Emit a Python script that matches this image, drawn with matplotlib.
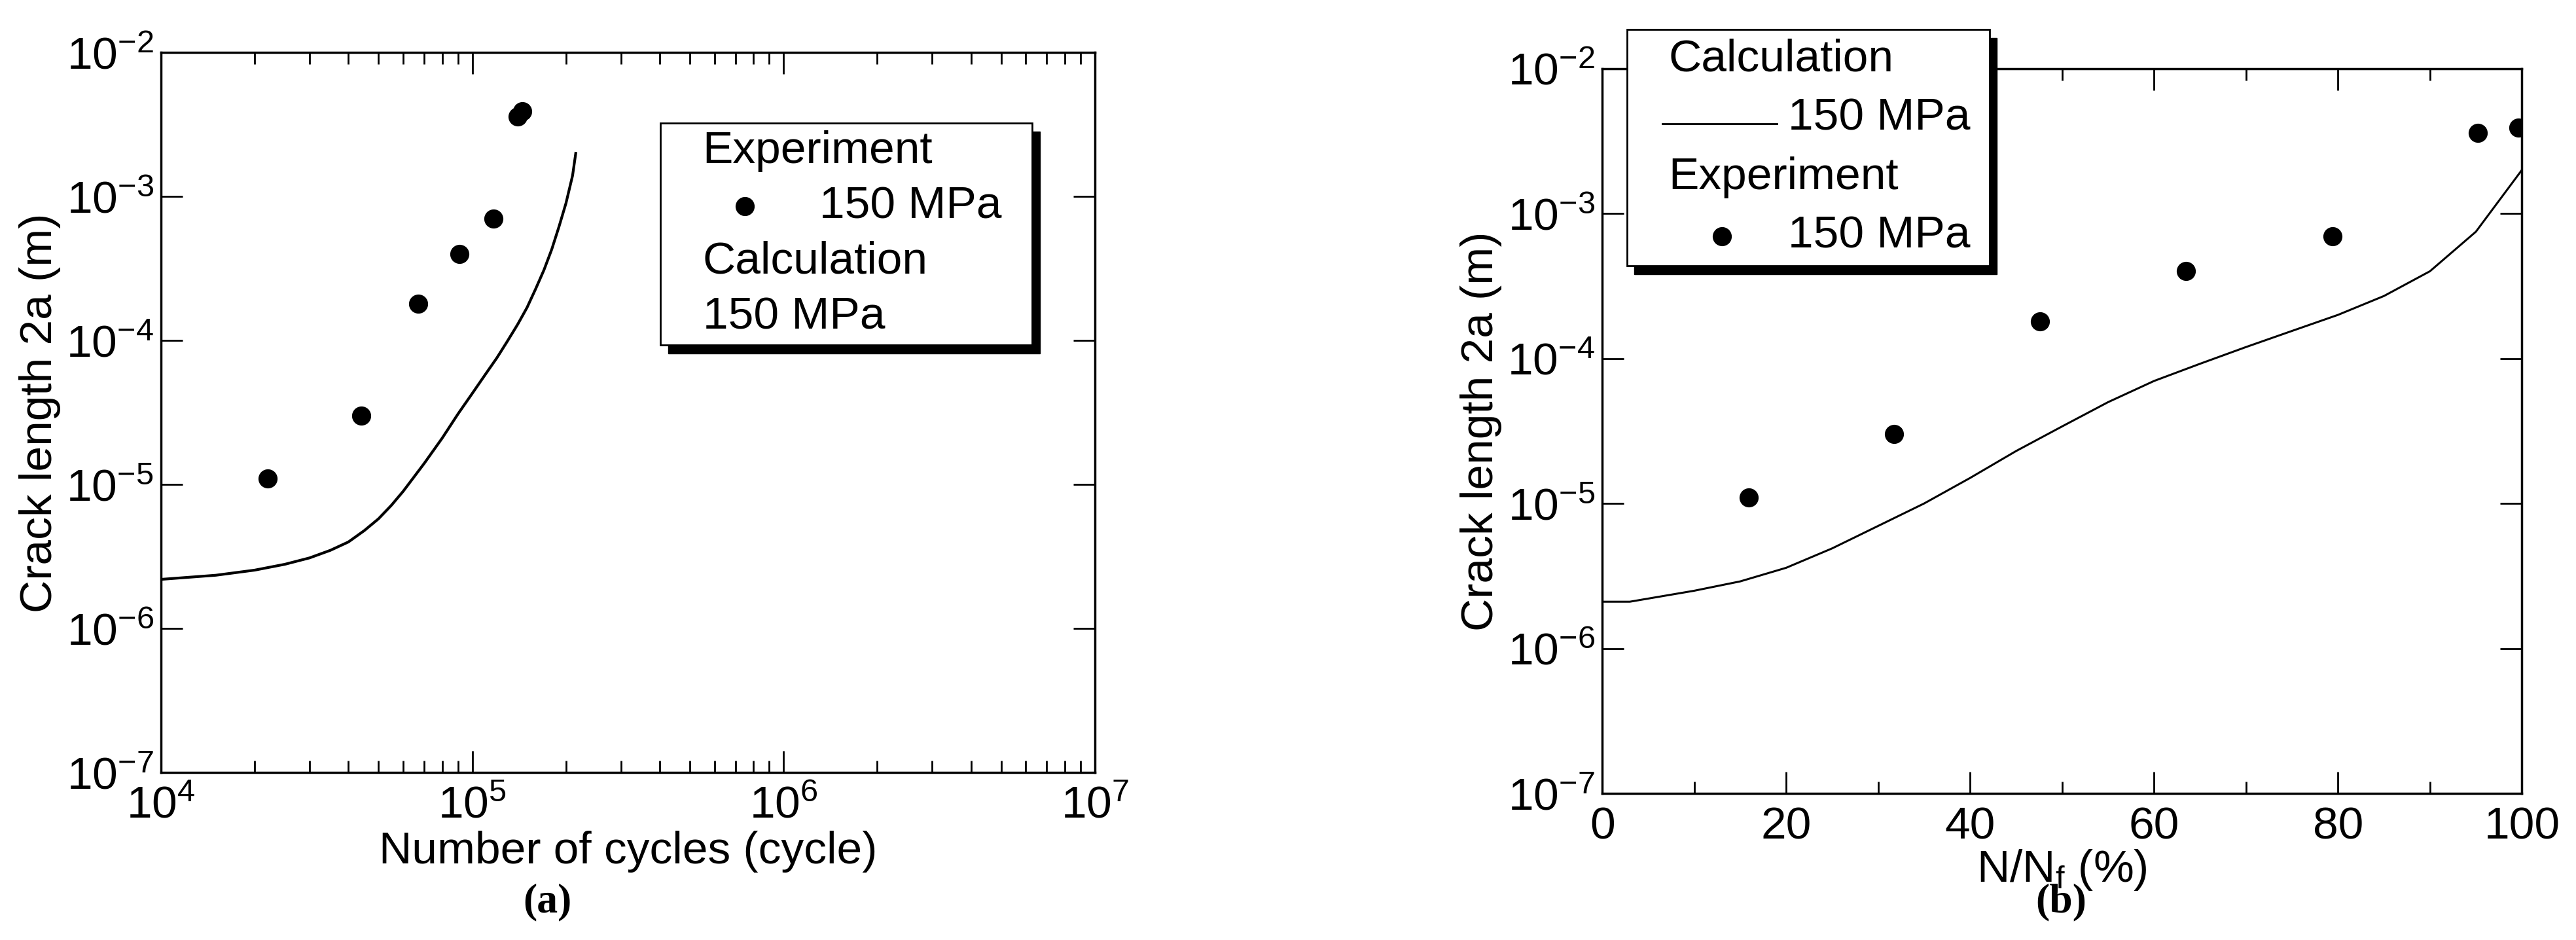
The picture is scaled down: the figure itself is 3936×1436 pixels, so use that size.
import numpy as np
import matplotlib
matplotlib.use("Agg")
from matplotlib import pyplot as plt
from matplotlib.patches import Rectangle
from matplotlib.ticker import LogLocator

plt.rcParams['font.family'] = ['Liberation Sans Narrow', 'Liberation Sans', 'DejaVu Sans']
plt.rcParams['mathtext.fontset'] = 'custom'
plt.rcParams['mathtext.rm'] = 'Liberation Sans'
plt.rcParams['mathtext.it'] = 'Liberation Sans'

# experiment (cycles, crack length)
exp_cycles = [2.2e4, 4.4e4, 6.7e4, 9.1e4, 1.17e5, 1.4e5, 1.45e5]
exp_len = [1.1e-5, 3.0e-5, 1.8e-4, 4.0e-4, 7.0e-4, 3.6e-3, 3.9e-3]
exp_pct = [15.9, 31.7, 47.6, 63.5, 79.4, 95.2, 99.6]

# calculation vs cycles
calc_cycles = [1e4, 1.5e4, 2e4, 2.5e4, 3e4, 3.5e4, 4e4, 4.5e4, 5e4, 5.5e4, 6e4, 7e4, 8e4, 9e4, 1e5, 1.1e5,
               1.2e5, 1.3e5, 1.4e5, 1.5e5, 1.6e5, 1.7e5, 1.8e5, 1.9e5, 2e5, 2.1e5, 2.15e5]
calc_len = [2.2e-6, 2.35e-6, 2.55e-6, 2.8e-6, 3.1e-6, 3.5e-6, 4.0e-6, 4.8e-6, 5.8e-6, 7.2e-6, 9e-6, 1.4e-5,
            2.1e-5, 3.1e-5, 4.3e-5, 5.8e-5, 7.6e-5, 1.0e-4, 1.3e-4, 1.7e-4, 2.3e-4, 3.1e-4, 4.3e-4, 6.2e-4,
            9e-4, 1.4e-3, 2.0e-3]

# calculation vs N/Nf
calc_pct = [0, 3, 10, 15, 20, 25, 30, 35, 40, 45, 50, 55, 60, 65, 70, 75, 80, 85, 90, 95, 100]
calc_len_pct = [2.1e-6, 2.1e-6, 2.5e-6, 2.9e-6, 3.6e-6, 4.9e-6, 7e-6, 1.0e-5, 1.5e-5, 2.3e-5, 3.4e-5,
                5.0e-5, 7e-5, 9.2e-5, 1.2e-4, 1.55e-4, 2e-4, 2.7e-4, 4e-4, 7.5e-4, 2e-3]

FS = 50

fig = plt.figure(figsize=(39.36, 14.36), dpi=100)
ax1 = fig.add_axes([0.0625, 0.178, 0.3625, 0.766])
ax2 = fig.add_axes([0.622, 0.156, 0.357, 0.771])


def style(ax):
    ax.set_yscale('log')
    ax.set_ylim(1e-7, 1e-2)
    ax.yaxis.set_major_locator(LogLocator(base=10, numticks=10))
    ax.yaxis.set_minor_locator(LogLocator(base=10, subs=[], numticks=10))
    ax.tick_params(which='both', direction='in', top=True, right=True, labelsize=FS, width=2)
    ax.tick_params(which='major', length=24)
    ax.tick_params(which='minor', length=13)
    ax.tick_params(axis='x', pad=14)
    ax.tick_params(axis='y', pad=8)
    for s in ax.spines.values():
        s.set_linewidth(2.5)
    ax.set_ylabel('Crack length 2a (m)', fontsize=FS, labelpad=6)


def legend_box(ax, x0, y0, x1, y1, lines):
    offx, offy = 0.008, 0.012
    ax.add_patch(Rectangle((x0 + offx, y0 - offy), x1 - x0, y1 - y0, transform=ax.transAxes,
                           facecolor='black', edgecolor='black', clip_on=False, zorder=5))
    ax.add_patch(Rectangle((x0, y0), x1 - x0, y1 - y0, transform=ax.transAxes,
                           facecolor='white', edgecolor='black', lw=2, clip_on=False, zorder=6))
    h = (y1 - y0) / len(lines)
    for i, (indent, txt) in enumerate(lines):
        ax.text(x0 + 0.045 + indent, y1 - h * (i + 0.5), txt, transform=ax.transAxes, fontsize=FS,
                va='center', ha='left', zorder=7)
    return h


# (a)
style(ax1)
ax1.set_xscale('log')
ax1.set_xlim(1e4, 1e7)
ax1.plot(calc_cycles, calc_len, color='black', lw=3)
ax1.plot(exp_cycles, exp_len, 'o', color='black', ms=20)
ax1.set_xlabel('Number of cycles (cycle)', fontsize=FS, labelpad=4)
h = legend_box(ax1, 0.535, 0.594, 0.933, 0.902,
               [(0, 'Experiment'), (0.125, '150 MPa'), (0, 'Calculation'), (0, '150 MPa')])
ax1.plot([0.625], [0.902 - h * 1.5], 'o', color='black', ms=20, transform=ax1.transAxes, zorder=8, clip_on=False)

# (b)
style(ax2)
ax2.set_xlim(0, 100)
ax2.set_xticks(range(0, 101, 20))
ax2.set_xticks(range(10, 100, 20), minor=True)
ax2.plot(calc_pct, calc_len_pct, color='black', lw=2.2)
ax2.plot(exp_pct, exp_len, 'o', color='black', ms=20)
ax2.set_xlabel('N/N$_\\mathrm{f}$ (%)', fontsize=FS, labelpad=0)
h = legend_box(ax2, 0.027, 0.728, 0.421, 1.054,
               [(0, 'Calculation'), (0.13, '150 MPa'), (0, 'Experiment'), (0.13, '150 MPa')])
ax2.plot([0.065, 0.19], [1.054 - h * 1.6] * 2, color='black', lw=2, transform=ax2.transAxes, zorder=8, clip_on=False)
ax2.plot([0.13], [1.054 - h * 3.5], 'o', color='black', ms=20, transform=ax2.transAxes, zorder=8, clip_on=False)

for x, lab in [(0.2125, 'a'), (0.80, 'b')]:
    fig.text(x, 0.04, '(' + lab + ')', fontsize=46, ha='center', va='center',
             family='Liberation Serif', fontweight='bold')

fig.savefig('out.png', dpi=100)
